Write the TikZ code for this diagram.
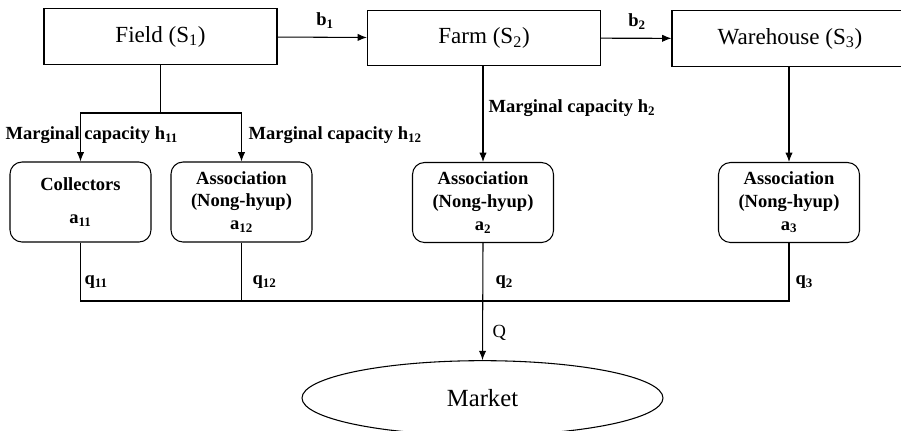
\documentclass[tikz,border=0pt]{standalone}
\usepackage{fontspec}
\setmainfont{Liberation Serif}
\usetikzlibrary{arrows.meta, positioning, shapes.geometric}

\begin{document}
\begin{tikzpicture}[x=0.75pt, y=-0.75pt, line width=0.8pt, >={Latex[length=7pt,width=5.5pt]},
	stage/.style = {draw, rectangle, minimum height=41.5pt, inner sep=0pt, font=\fontsize{17.3}{20}\selectfont},
	agent/.style = {draw, rectangle, rounded corners=9pt, minimum width=105.75pt, minimum height=60pt, inner sep=0pt, align=center, font=\fontsize{13.9}{17}\selectfont\bfseries},
	lbl/.style = {inner sep=0pt, font=\fontsize{13.9}{17}\selectfont\bfseries}]
	\useasboundingbox (0,0) rectangle (901,430);
	% stages
	\node[stage, minimum width=174.75pt] (field) at (160.5,36.5) {Field (S\textsubscript{1})};
	\node[stage, minimum width=174.75pt] (farm) at (484,38) {Farm (S\textsubscript{2})};
	\node[stage, minimum width=177pt] (ware) at (790,38.5) {Warehouse (S\textsubscript{3})};
	% buyers
	\node[agent] (coll) at (80.5,202) {Collectors\\[8pt]a\textsubscript{11}};
	\node[agent] (assoc1) at (241.5,202) {Association\\(Nong-hyup)\\a\textsubscript{12}};
	\node[agent] (assoc2) at (483,202.5) {Association\\(Nong-hyup)\\a\textsubscript{2}};
	\node[agent] (assoc3) at (789,202.5) {Association\\(Nong-hyup)\\a\textsubscript{3}};
	\node[draw, ellipse, minimum width=270.75pt, minimum height=56pt, inner sep=0pt, font=\fontsize{18.5}{22}\selectfont] (market) at (482.5,398) {Market};
	\coordinate (split) at (160.5,113);
	\coordinate (bus) at (0,301);
	% labels
	\node[lbl] (b1) at (325,21) {b\textsubscript{1}};
	\node[lbl] (b2) at (637,22) {b\textsubscript{2}};
	\node[lbl, anchor=west] (h11) at (5,135) {Marginal capacity h\textsubscript{11}};
	\node[lbl, anchor=west] (h12) at (248,135) {Marginal capacity h\textsubscript{12}};
	\node[lbl, anchor=west] (h2) at (488,108) {Marginal capacity h\textsubscript{2}};
	\node[lbl, anchor=west] (q11) at (84,282) {q\textsubscript{11}};
	\node[lbl, anchor=west] (q12) at (252,282) {q\textsubscript{12}};
	\node[lbl, anchor=west] (q2) at (495,282) {q\textsubscript{2}};
	\node[lbl, anchor=west] (q3) at (795,282) {q\textsubscript{3}};
	\node[lbl, anchor=west, font=\fontsize{13.9}{17}\selectfont] (q) at (492,333) {Q};
	% flows
	\draw[->] (field) -- (farm);
	\draw[->] (farm) -- (ware);
	\draw (field.south) -- (split);
	\draw[->] (split) -| (coll.north);
	\draw[->] (split) -| (assoc1.north);
	\draw[->] (farm.south -| assoc2.north) -- (assoc2.north);
	\draw[->] (ware.south -| assoc3.north) -- (assoc3.north);
	\draw (coll.south) |- (assoc3.south |- bus) -- (assoc3.south);
	\draw (assoc1.south) -- (assoc1.south |- bus);
	\draw[->] (assoc2.south) -- (market.north);
\end{tikzpicture}
\end{document}
